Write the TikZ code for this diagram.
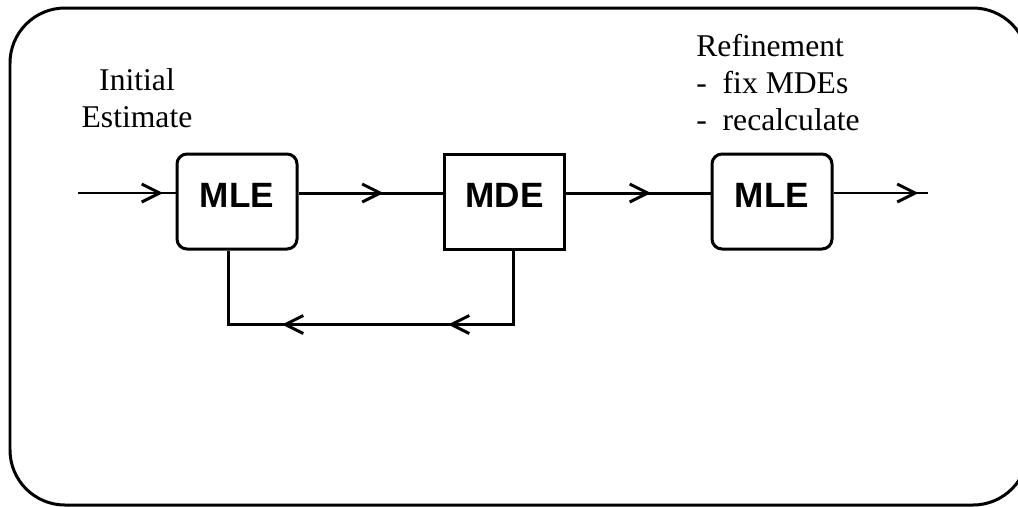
\documentclass[tikz,border=0pt]{standalone}
\usepackage{fontspec}
\setmainfont{Liberation Serif}
\setsansfont{Liberation Sans}
\usetikzlibrary{arrows.meta,decorations.markings}
\tikzstyle{block}  = [draw, line width=0.06cm, minimum width=2.4cm, minimum height=1.9cm, text depth=0.24cm, font=\sffamily\bfseries\fontsize{20}{24}\selectfont]
\tikzstyle{rblock} = [block, rounded corners=0.2cm]
\tikzstyle{note}   = [inner sep=0pt, font=\fontsize{18}{21}\selectfont]
\tikzstyle{flow}   = [line width=0.06cm, postaction={decorate}, decoration={markings, mark=at position 1.7cm with {\arrow{chev}}}]
\tikzset{chev/.tip={Straight Barb[length=0.36cm, width=0.36cm, line width=0.06cm]}}

\begin{document}
\begin{tikzpicture}
        \useasboundingbox (0,0) rectangle (20.36,-10.12);
        \draw[line width=0.06cm, rounded corners=1.1cm] (0.2,-0.16) rectangle (20.56,-10.1);

        \node[rblock] (mle1) at (4.74,-4.03) {MLE};
        \node[block]  (mde)  at (10.09,-4.03) {MDE};
        \node[rblock] (mle2) at (15.44,-4.03) {MLE};
        \coordinate (in)  at (1.56,-3.86);
        \coordinate (out) at (18.56,-3.86);

        \node[note, align=center, anchor=north] (init) at (2.74,-1.36) {Initial\\Estimate};
        \node[note, align=left, anchor=north west] (refine) at (13.92,-0.68) {Refinement\\-\enspace fix MDEs\\-\enspace recalculate};

        % main chain
        \draw[flow, line width=0.03cm] (in) -- (in -| mle1.west);
        \draw[flow] (mle1.east |- in) -- (mde.west |- in);
        \draw[flow] (mde.east |- in) -- (mle2.west |- in);
        \draw[flow, line width=0.03cm] (mle2.east |- in) -- (out);

        % loop back from MDE to MLE
        \draw[line width=0.06cm, postaction={decorate}, decoration={markings,
                mark=at position 2.78cm with {\arrow{chev}},
                mark=at position 6.1cm with {\arrow{chev}}}]
            ([xshift=0.17cm]mde.south) -- ++(0,-1.48) -| ([xshift=-0.18cm]mle1.south);
    \end{tikzpicture}
\end{document}
